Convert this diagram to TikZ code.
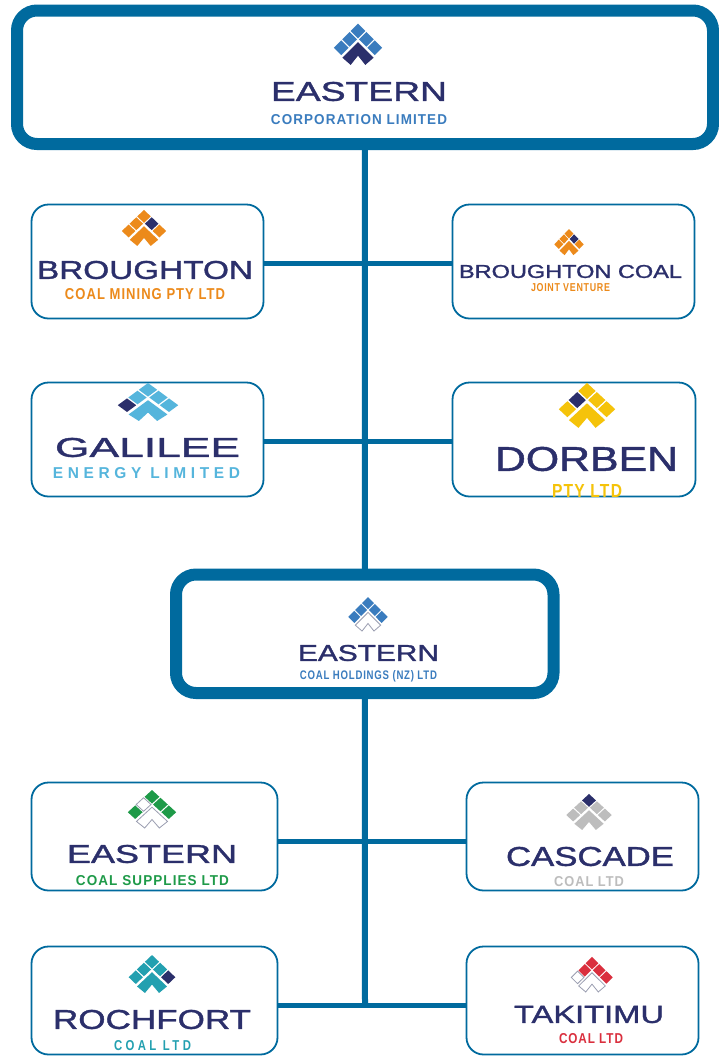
\documentclass[tikz,border=0pt]{standalone}
\usepackage{fontspec}
\usepackage{graphicx}
\setmainfont{Liberation Sans}
\newfontfamily\brandfont[FakeBold=1.2]{Liberation Sans}
\newfontfamily\subfont[LetterSpace=8]{Liberation Sans}
\newfontfamily\subwidefont[LetterSpace=30]{Liberation Sans}
\usetikzlibrary{positioning}

\definecolor{linkblue}{HTML}{006A9E}
\definecolor{navy}{HTML}{2B2F6B}
\definecolor{corpblue}{HTML}{3A7CBE}
\definecolor{minorange}{HTML}{EC8A1B}
\definecolor{skyblue}{HTML}{55B5DC}
\definecolor{goldyellow}{HTML}{F5C30A}
\definecolor{coalgreen}{HTML}{1E9A48}
\definecolor{coalgrey}{HTML}{BDBDBD}
\definecolor{coalteal}{HTML}{23A0B0}
\definecolor{coalred}{HTML}{DA2F3E}
\definecolor{edgegrey}{HTML}{9A9DB0}

% one tile of a logo, at grid position #1,#2
\newcommand{\logotile}[3]{\path[#3,shift={(#1,#2)}] (0,-.88) -- (.88,0) -- (0,.88) -- (-.88,0) -- cycle;}
% logo: top tile at #1, grid units #2 and #3, then top, left, right, far left, far right, chevron
\newcommand{\logomark}[9]{%
  \begin{scope}[shift={(#1)},x=#2pt,y=-#3pt]
    \logotile{0}{0}{#4}
    \logotile{-1}{1}{#5}
    \logotile{1}{1}{#6}
    \logotile{-2}{2}{#7}
    \logotile{2}{2}{#8}
    \path[#9] (0,1.35) -- (1.85,3.2) -- (.87,4.05) -- (0,2.95) -- (-.87,4.05) -- (-1.85,3.2) -- cycle;
  \end{scope}}
% text squeezed to a given width and height
\newcommand{\fitword}[3]{\resizebox{#1pt}{#2pt}{#3}}

\begin{document}
\begin{tikzpicture}[
  x=1pt, y=-1pt,
  bigbox/.style={draw=linkblue, fill=white, line width=12pt, rounded corners=20pt, outer sep=0pt},
  box/.style={draw=linkblue, fill=white, line width=1.8pt, rounded corners=17pt, outer sep=0pt},
  link/.style={draw=linkblue, line width=5pt},
  trunk/.style={draw=linkblue, line width=6pt},
  brandname/.style={inner sep=0pt, text=navy, font=\brandfont},
  subname/.style={inner sep=0pt, font=\subfont\bfseries},
  widesub/.style={inner sep=0pt, font=\subwidefont\bfseries},
  tblue/.style={fill=corpblue},
  tnavy/.style={fill=navy},
  torange/.style={fill=minorange},
  tsky/.style={fill=skyblue},
  tgold/.style={fill=goldyellow},
  tgreen/.style={fill=coalgreen},
  tgrey/.style={fill=coalgrey},
  tteal/.style={fill=coalteal},
  tred/.style={fill=coalred},
  hollow/.style={fill=white, draw=edgegrey, line width=.8pt}
]
\useasboundingbox (0,0) rectangle (719,1058);

% Main boxes
\node[bigbox, minimum width=696pt, minimum height=133.5pt] (corp) at (365,77.25) {};
\node[bigbox, minimum width=377.5pt, minimum height=118.5pt] (holdings) at (364.75,633.75) {};

% Boxes under the corporation
\node[box, minimum width=232pt, minimum height=114pt] (broughton) at (147.5,261.5) {};
\node[box, minimum width=242pt, minimum height=114pt] (brcoal) at (573.5,261.5) {};
\node[box, minimum width=232pt, minimum height=114pt] (galilee) at (147.5,439.5) {};
\node[box, minimum width=243pt, minimum height=114pt] (dorben) at (574,439.5) {};

% Boxes under the holdings
\node[box, minimum width=246pt, minimum height=108pt] (supplies) at (154.5,836.5) {};
\node[box, minimum width=232pt, minimum height=108pt] (cascade) at (582.5,836.5) {};
\node[box, minimum width=246pt, minimum height=108pt] (rochfort) at (154.5,1000.5) {};
\node[box, minimum width=232pt, minimum height=108pt] (takitimu) at (582.5,1000.5) {};

\coordinate (trunkend) at (365,1005);

% Connectors
\draw[trunk] (corp) -- (holdings);
\draw[trunk] (holdings) -- (trunkend);
\draw[link] ([yshift=-1.5pt]broughton.east) -- ([yshift=-1.5pt]brcoal.west);
\draw[link] ([yshift=-1.5pt]galilee.east) -- ([yshift=-1.5pt]dorben.west);
\draw[link] ([yshift=-5pt]supplies.east) -- ([yshift=-5pt]cascade.west);
\draw[link] ([yshift=-4.5pt]rochfort.east) -- ([yshift=-4.5pt]takitimu.west);

% Corporation
\logomark{358,30.9}{8.4}{8.4}{tblue}{tblue}{tblue}{tblue}{tblue}{tnavy}
\node[brandname] (corpname) at (359,91.5) {\fitword{176}{19}{EASTERN}};
\node[subname, text=corpblue] (corpsub) at (359,120) {\fitword{176}{10}{CORPORATION LIMITED}};

% Broughton
\logomark{144,216.4}{7.7}{7.3}{torange}{torange}{tnavy}{torange}{torange}{torange}
\node[brandname] (brname) at (145,270) {\fitword{216}{18}{BROUGHTON}};
\node[subname, text=minorange] (brsub) at (145,294.5) {\fitword{160}{11}{COAL MINING PTY LTD}};

% Broughton coal
\logomark{569,233.7}{5.1}{5.3}{torange}{torange}{tnavy}{torange}{torange}{torange}
\node[brandname] (bcname) at (570.5,271.5) {\fitword{223}{13}{BROUGHTON COAL}};
\node[subname, text=minorange] (bcsub) at (570.5,288) {\fitword{79}{8}{JOINT VENTURE}};

% Galilee
\logomark{148,389.8}{10.5}{7.7}{tsky}{tsky}{tsky}{tnavy}{tsky}{tsky}
\node[brandname] (galname) at (147.5,447.5) {\fitword{185}{19}{GALILEE}};
\node[widesub, text=skyblue] (galsub) at (146.5,473.5) {\fitword{187}{11}{ENERGY LIMITED}};

% Dorben
\logomark{587,391}{9.8}{9.1}{tgold}{tnavy}{tgold}{tgold}{tgold}{tgold}
\node[brandname] (dorname) at (586.5,459) {\fitword{183}{24}{DORBEN}};
\node[subname, text=goldyellow] (dorsub) at (587,490.5) {\fitword{70}{13}{PTY LTD}};

% Holdings
\logomark{368,603.1}{6.85}{6.9}{tblue}{tblue}{tblue}{tblue}{tblue}{hollow}
\node[brandname] (holdname) at (368.5,653) {\fitword{141}{16}{EASTERN}};
\node[subname, text=corpblue] (holdsub) at (368.5,676) {\fitword{137}{9}{COAL HOLDINGS (NZ) LTD}};

% Eastern supplies
\logomark{152,796.8}{8.4}{7.7}{tgreen}{hollow}{tgreen}{tgreen}{tgreen}{hollow}
\node[brandname] (supname) at (152,854) {\fitword{170}{18}{EASTERN}};
\node[subname, text=coalgreen] (supsub) at (152.5,881) {\fitword{153}{10}{COAL SUPPLIES LTD}};

% Cascade
\logomark{589,800.4}{7.9}{7.3}{tnavy}{tgrey}{tgrey}{tgrey}{tgrey}{tgrey}
\node[brandname] (casname) at (590,856.5) {\fitword{168}{19}{CASCADE}};
\node[subname, text=coalgrey] (cassub) at (589,882) {\fitword{70}{10}{COAL LTD}};

% Rochfort
\logomark{152,961.8}{8.1}{7.7}{tteal}{tteal}{tteal}{tteal}{tnavy}{tteal}
\node[brandname] (rocname) at (152,1019.5) {\fitword{198}{19}{ROCHFORT}};
\node[widesub, text=coalteal] (rocsub) at (152.5,1046) {\fitword{77}{10}{COAL LTD}};

% Takitimu
\logomark{592,963.2}{7.2}{7.1}{tred}{tred}{tred}{hollow}{tred}{hollow}
\node[brandname] (takname) at (589,1014.5) {\fitword{150}{17}{TAKITIMU}};
\node[subname, text=coalred] (taksub) at (591,1039) {\fitword{64}{10}{COAL LTD}};

\end{tikzpicture}
\end{document}
